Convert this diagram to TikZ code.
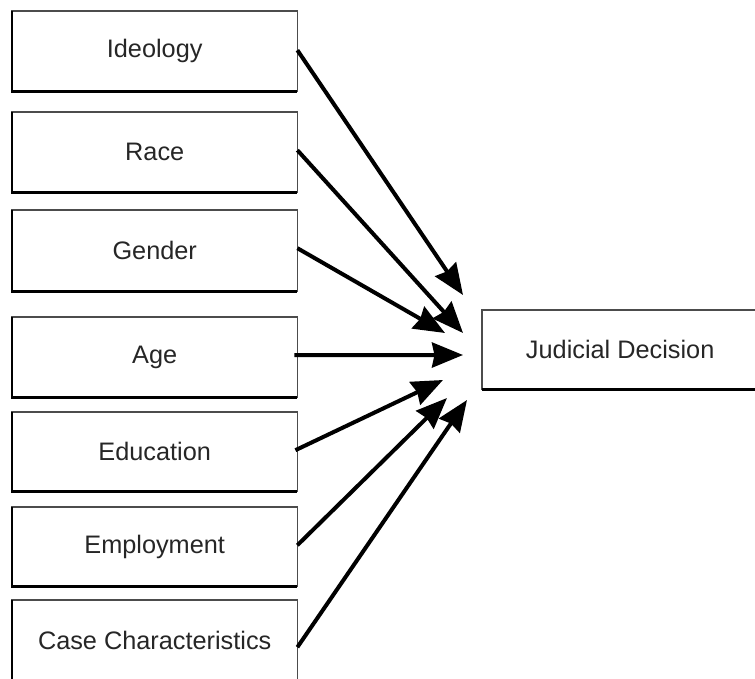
\documentclass[tikz,border=0pt]{standalone}
\usepackage{fontspec}
\setmainfont{Liberation Sans}
\usetikzlibrary{arrows.meta}
\begin{document}
\begin{tikzpicture}[x=1pt,y=-1pt,
  lbl/.style={font=\fontsize{25.3}{29}\selectfont, text=black!85},
  boxline/.style={draw=black!70, line width=1.2pt},
  shadeline/.style={draw=black, line width=2.6pt},
  conn/.style={line width=4pt, -{Stealth[length=31pt,width=25pt,inset=2.5pt]}}]
\useasboundingbox (0,0) rectangle (755,679);
% left boxes: top, bottom
\foreach \n/\t/\b/\txt in {ideo/11/91/Ideology, race/112/192/Race, gend/210/291/Gender, age/317/397/Age, edu/412/491/Education, emp/507/586/Employment, cas/600/681/Case Characteristics}{
  \node[lbl, minimum width=285pt, minimum height={\b-\t}, inner sep=0pt, anchor=north west] (\n) at (12,\t) {\txt};
  \draw[boxline] (\n.north west) rectangle (\n.south east);
  \draw[shadeline] (\n.north west) -- (\n.south west) -- (\n.south east);
}
\node[lbl, minimum width=276pt, minimum height=79pt, inner sep=0pt, anchor=north west] (jd) at (482,310) {Judicial Decision};
\draw[boxline] (jd.north west) rectangle (jd.south east);
\draw[shadeline] (jd.south west) -- (jd.south east);
% arrow tips
\coordinate (t1) at (463,295);
\coordinate (t2) at (463,333);
\coordinate (t3) at (445,333);
\coordinate (t4) at (463,355);
\coordinate (t5) at (443,380);
\coordinate (t6) at (447,398);
\coordinate (t7) at (467,400);
\draw[conn] ([yshift=1pt]ideo.east) -- (t1);
\draw[conn] ([yshift=2pt]race.east) -- (t2);
\draw[conn] ([yshift=2.5pt]gend.east) -- (t3);
\draw[conn] ([xshift=-3pt,yshift=2pt]age.east) -- (t4);
\draw[conn] ([xshift=-2pt,yshift=1.5pt]edu.east) -- (t5);
\draw[conn] ([yshift=1.5pt]emp.east) -- (t6);
\draw[conn] ([yshift=-6.5pt]cas.east) -- (t7);
\end{tikzpicture}
\end{document}
